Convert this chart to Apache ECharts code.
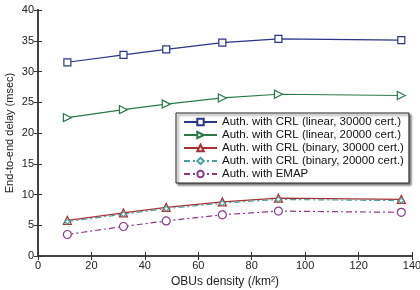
<!DOCTYPE html>
<html>
<head>
<meta charset="utf-8">
<script src="https://cdn.jsdelivr.net/npm/echarts@6/dist/echarts.min.js"></script>
<style>
html, body { margin: 0; padding: 0; background: #fff; }
#chart { width: 420px; height: 290px; }
</style>
</head>
<body>
<div id="chart"></div>
<script>
const density = [11, 32, 48, 69, 90, 136];
const linear30000 = [31.5, 32.7, 33.6, 34.7, 35.3, 35.1];
const linear20000 = [22.5, 23.8, 24.7, 25.7, 26.3, 26.1];
const binary30000 = [5.8, 7.0, 7.9, 8.8, 9.4, 9.2];
const binary20000 = [5.6, 6.8, 7.7, 8.6, 9.2, 9.0];
const emap = [3.5, 4.8, 5.7, 6.7, 7.3, 7.1];
const names = [
    'Auth. with CRL (linear, 30000 cert.)',
    'Auth. with CRL (linear, 20000 cert.)',
    'Auth. with CRL (binary, 30000 cert.)',
    'Auth. with CRL (binary, 20000 cert.)',
    'Auth. with EMAP'
];

function pairs(ys) {
    return density.map((x, i) => [x, ys[i]]);
}

let myCharts = echarts.init(document.getElementById('chart'));
const font = 'Liberation Sans, Arial, sans-serif';
const axisBase = {
    min: 0,
    axisLine: { show: true, lineStyle: { color: '#444', width: 2 } },
    axisTick: { show: true, inside: true, length: 4, lineStyle: { color: '#333' } },
    splitLine: { show: false },
    axisLabel: { color: '#222', fontSize: 11, fontFamily: font, margin: 4 }
};
function mkSeries(name, data, color, symbol, lineType, size, rotate) {
    return {
        name: name,
        type: 'line',
        data: pairs(data),
        symbol: symbol,
        symbolSize: size,
        symbolRotate: rotate || 0,
        showAllSymbol: true,
        color: color,
        lineStyle: { color: color, width: 1.2, type: lineType },
        itemStyle: { color: '#fff', borderColor: color, borderWidth: 1.2 }
    };
}
let option = {
    animation: false,
    textStyle: { fontFamily: font },
    grid: { left: 38, right: 8, top: 10, bottom: 34, outerBoundsMode: 'none' },
    legend: {
        orient: 'vertical',
        left: 176,
        top: 113,
        width: 232,
        itemWidth: 33,
        itemHeight: 8,
        itemGap: 1,
        padding: [3, 5, 3, 7],
        backgroundColor: '#fff',
        borderColor: '#222',
        borderWidth: 1,
        shadowColor: 'rgba(0,0,0,0.5)',
        shadowOffsetX: 2,
        shadowOffsetY: 2,
        shadowBlur: 2,
        textStyle: { fontSize: 11.5, color: '#111', fontFamily: font },
        data: names
    },
    xAxis: [
        Object.assign({}, axisBase, {
            type: 'value', max: 140, interval: 20,
            name: 'OBUs density (/km²)',
            nameLocation: 'middle', nameGap: 20, nameMoveOverlap: false,
            nameTextStyle: { fontSize: 12, color: '#222', fontFamily: font }
        }),
        Object.assign({}, axisBase, {
            type: 'value', max: 140, interval: 20, position: 'top',
            axisLabel: { show: false }
        })
    ],
    yAxis: [
        Object.assign({}, axisBase, {
            type: 'value', max: 40, interval: 5,
            name: 'End-to-end delay (msec)',
            nameLocation: 'middle', nameGap: 23, nameMoveOverlap: false,
            nameTextStyle: { fontSize: 11, color: '#222', fontFamily: font }
        }),
        Object.assign({}, axisBase, {
            type: 'value', max: 40, interval: 5, position: 'right',
            axisLabel: { show: false }
        })
    ],
    series: [
        mkSeries(names[0], linear30000, '#2a3488', 'rect', 'solid', 7),
        mkSeries(names[1], linear20000, '#2a7a48', 'triangle', 'solid', 8, -90),
        mkSeries(names[2], binary30000, '#a83030', 'triangle', 'solid', 8),
        mkSeries(names[3], binary20000, '#4aa0a0', 'diamond', [6, 3, 2, 3], 5),
        mkSeries(names[4], emap, '#8a3a8a', 'circle', [6, 3, 2, 3], 8)
    ]
};
myCharts.setOption(option);
</script>
</body>
</html>
